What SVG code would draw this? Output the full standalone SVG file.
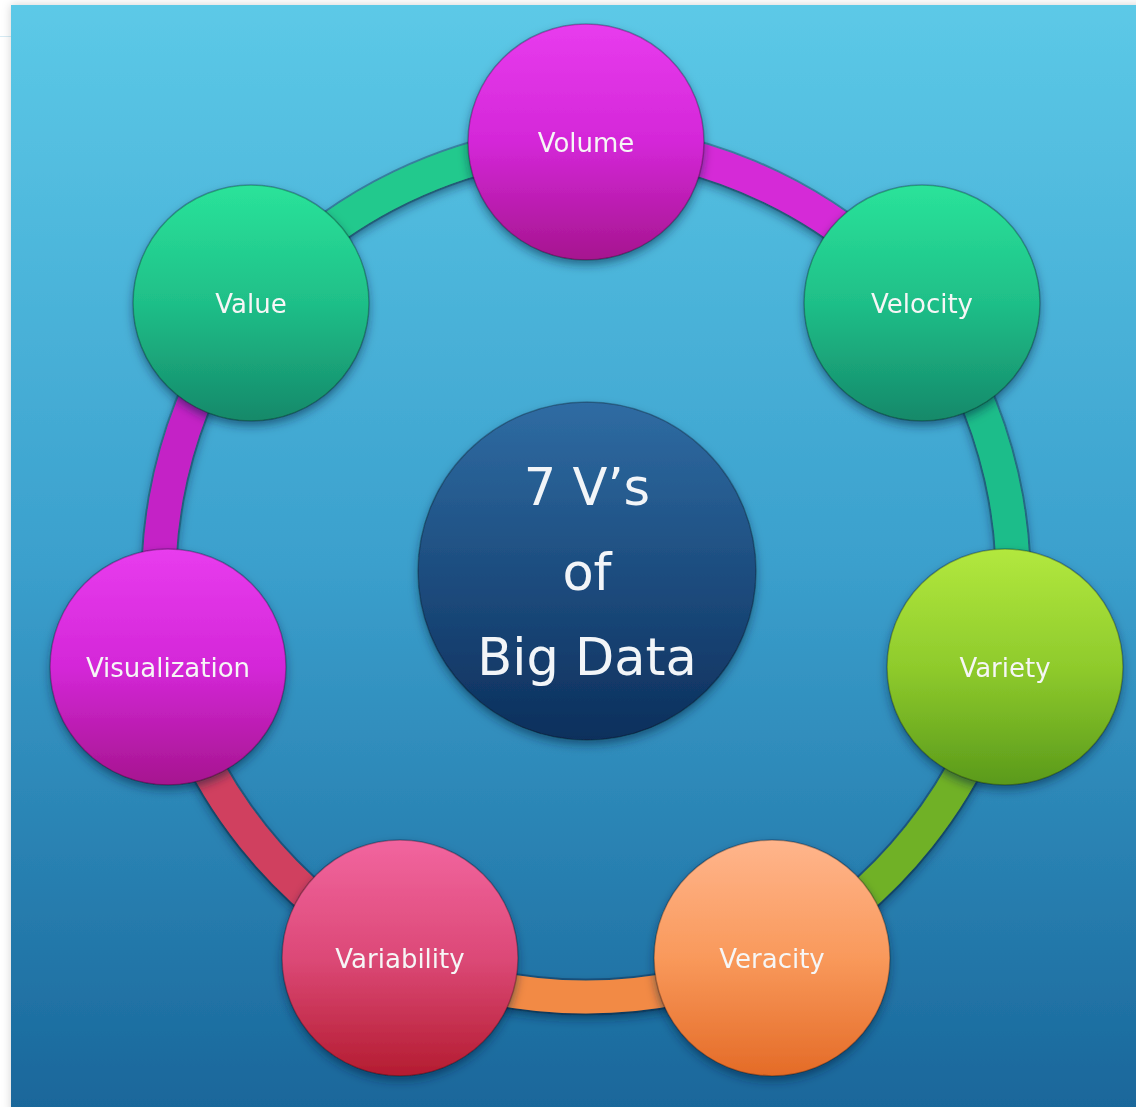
<svg xmlns="http://www.w3.org/2000/svg" width="1136" height="1107" viewBox="0 0 1136 1107">
  <defs>
    <linearGradient id="bg" x1="0" y1="0" x2="0" y2="1">
      <stop offset="0" stop-color="#5cc9e7"/>
      <stop offset="0.5" stop-color="#3ba0cd"/>
      <stop offset="1" stop-color="#19669a"/>
    </linearGradient>
    <linearGradient id="gMag" x1="0" y1="0" x2="0" y2="1">
      <stop offset="0" stop-color="#e83cee"/>
      <stop offset="0.5" stop-color="#d427d8"/>
      <stop offset="1" stop-color="#a6158f"/>
    </linearGradient>
    <linearGradient id="gGreen" x1="0" y1="0" x2="0" y2="1">
      <stop offset="0" stop-color="#2ae39a"/>
      <stop offset="0.5" stop-color="#1fbf88"/>
      <stop offset="1" stop-color="#15896a"/>
    </linearGradient>
    <linearGradient id="gLime" x1="0" y1="0" x2="0" y2="1">
      <stop offset="0" stop-color="#b2e83e"/>
      <stop offset="0.5" stop-color="#8fcb2c"/>
      <stop offset="1" stop-color="#5a9a1b"/>
    </linearGradient>
    <linearGradient id="gOrange" x1="0" y1="0" x2="0" y2="1">
      <stop offset="0" stop-color="#ffb58c"/>
      <stop offset="0.5" stop-color="#f9995b"/>
      <stop offset="1" stop-color="#e46b27"/>
    </linearGradient>
    <linearGradient id="gPink" x1="0" y1="0" x2="0" y2="1">
      <stop offset="0" stop-color="#f2659f"/>
      <stop offset="0.5" stop-color="#dc4977"/>
      <stop offset="1" stop-color="#b41c30"/>
    </linearGradient>
    <linearGradient id="gNavy" x1="0" y1="0" x2="0" y2="1">
      <stop offset="0" stop-color="#2f6ca3"/>
      <stop offset="1" stop-color="#0c2f5c"/>
    </linearGradient>
    <filter id="sh" x="-20%" y="-20%" width="140%" height="150%">
      <feDropShadow dx="0" dy="5" stdDeviation="5" flood-color="#06243a" flood-opacity="0.5"/>
    </filter>
    <filter id="pageSh" x="-5%" y="-5%" width="110%" height="110%">
      <feDropShadow dx="0" dy="0" stdDeviation="5" flood-color="#000" flood-opacity="0.18"/>
    </filter>
  </defs>
  <style>
    .node circle { stroke: rgba(0,0,0,0.28); stroke-width: 1.5; }
    .lbl { font-family: "DejaVu Sans", "Liberation Sans", sans-serif; font-size: 26px; fill: #f6f6f6; text-anchor: middle; }
    .title { font-family: "DejaVu Sans", "Liberation Sans", sans-serif; font-size: 51px; fill: #f2f5f8; text-anchor: middle; }
    .arc { fill: none; stroke-width: 33; }
    .arcEdge { fill: none; stroke-width: 37; stroke: rgba(0,0,0,0.28); }
  </style>

  <rect x="0" y="0" width="1136" height="1107" fill="#ffffff"/>
  <line x1="0" y1="36.5" x2="11" y2="36.5" stroke="#d6ebf4" stroke-width="1"/>
  <rect x="11" y="5" width="1140" height="1110" fill="url(#bg)" filter="url(#pageSh)"/>

  <g id="connectors" filter="url(#sh)">
    <path class="arcEdge" d="M586 141 A470 470 0 0 1 922.19 302.9"/>
    <path class="arc" stroke="#d52ad7" d="M586 141 A470 470 0 0 1 922.19 302.9"/>
    <path class="arcEdge" d="M922.19 302.9 A470 470 0 0 1 1005.22 666.68"/>
    <path class="arc" stroke="#1fbd8a" d="M922.19 302.9 A470 470 0 0 1 1005.22 666.68"/>
    <path class="arcEdge" d="M1005.22 666.68 A470 470 0 0 1 772.57 958.42"/>
    <path class="arc" stroke="#6fb126" d="M1005.22 666.68 A470 470 0 0 1 772.57 958.42"/>
    <path class="arcEdge" d="M772.57 958.42 A470 470 0 0 1 399.43 958.42"/>
    <path class="arc" stroke="#f28a45" d="M772.57 958.42 A470 470 0 0 1 399.43 958.42"/>
    <path class="arcEdge" d="M399.43 958.42 A470 470 0 0 1 166.78 666.68"/>
    <path class="arc" stroke="#d0405e" d="M399.43 958.42 A470 470 0 0 1 166.78 666.68"/>
    <path class="arcEdge" d="M166.78 666.68 A470 470 0 0 1 249.81 302.9"/>
    <path class="arc" stroke="#c424c6" d="M166.78 666.68 A470 470 0 0 1 249.81 302.9"/>
    <path class="arcEdge" d="M249.81 302.9 A470 470 0 0 1 586 141"/>
    <path class="arc" stroke="#24c98d" d="M249.81 302.9 A470 470 0 0 1 586 141"/>
  </g>

  <g id="center" class="node" filter="url(#sh)">
    <circle cx="587" cy="571" r="169" fill="url(#gNavy)"/>
    <text class="title" x="587" y="505">7 V’s</text>
    <text class="title" x="587" y="590">of</text>
    <text class="title" x="587" y="675">Big Data</text>
  </g>

  <g id="volume" class="node" filter="url(#sh)">
    <circle cx="586" cy="142" r="118" fill="url(#gMag)"/>
    <text class="lbl" x="586" y="152">Volume</text>
  </g>
  <g id="velocity" class="node" filter="url(#sh)">
    <circle cx="922" cy="303" r="118" fill="url(#gGreen)"/>
    <text class="lbl" x="922" y="313">Velocity</text>
  </g>
  <g id="variety" class="node" filter="url(#sh)">
    <circle cx="1005" cy="667" r="118" fill="url(#gLime)"/>
    <text class="lbl" x="1005" y="677">Variety</text>
  </g>
  <g id="veracity" class="node" filter="url(#sh)">
    <circle cx="772" cy="958" r="118" fill="url(#gOrange)"/>
    <text class="lbl" x="772" y="968">Veracity</text>
  </g>
  <g id="variability" class="node" filter="url(#sh)">
    <circle cx="400" cy="958" r="118" fill="url(#gPink)"/>
    <text class="lbl" x="400" y="968">Variability</text>
  </g>
  <g id="visualization" class="node" filter="url(#sh)">
    <circle cx="168" cy="667" r="118" fill="url(#gMag)"/>
    <text class="lbl" x="168" y="677">Visualization</text>
  </g>
  <g id="value" class="node" filter="url(#sh)">
    <circle cx="251" cy="303" r="118" fill="url(#gGreen)"/>
    <text class="lbl" x="251" y="313">Value</text>
  </g>
</svg>
